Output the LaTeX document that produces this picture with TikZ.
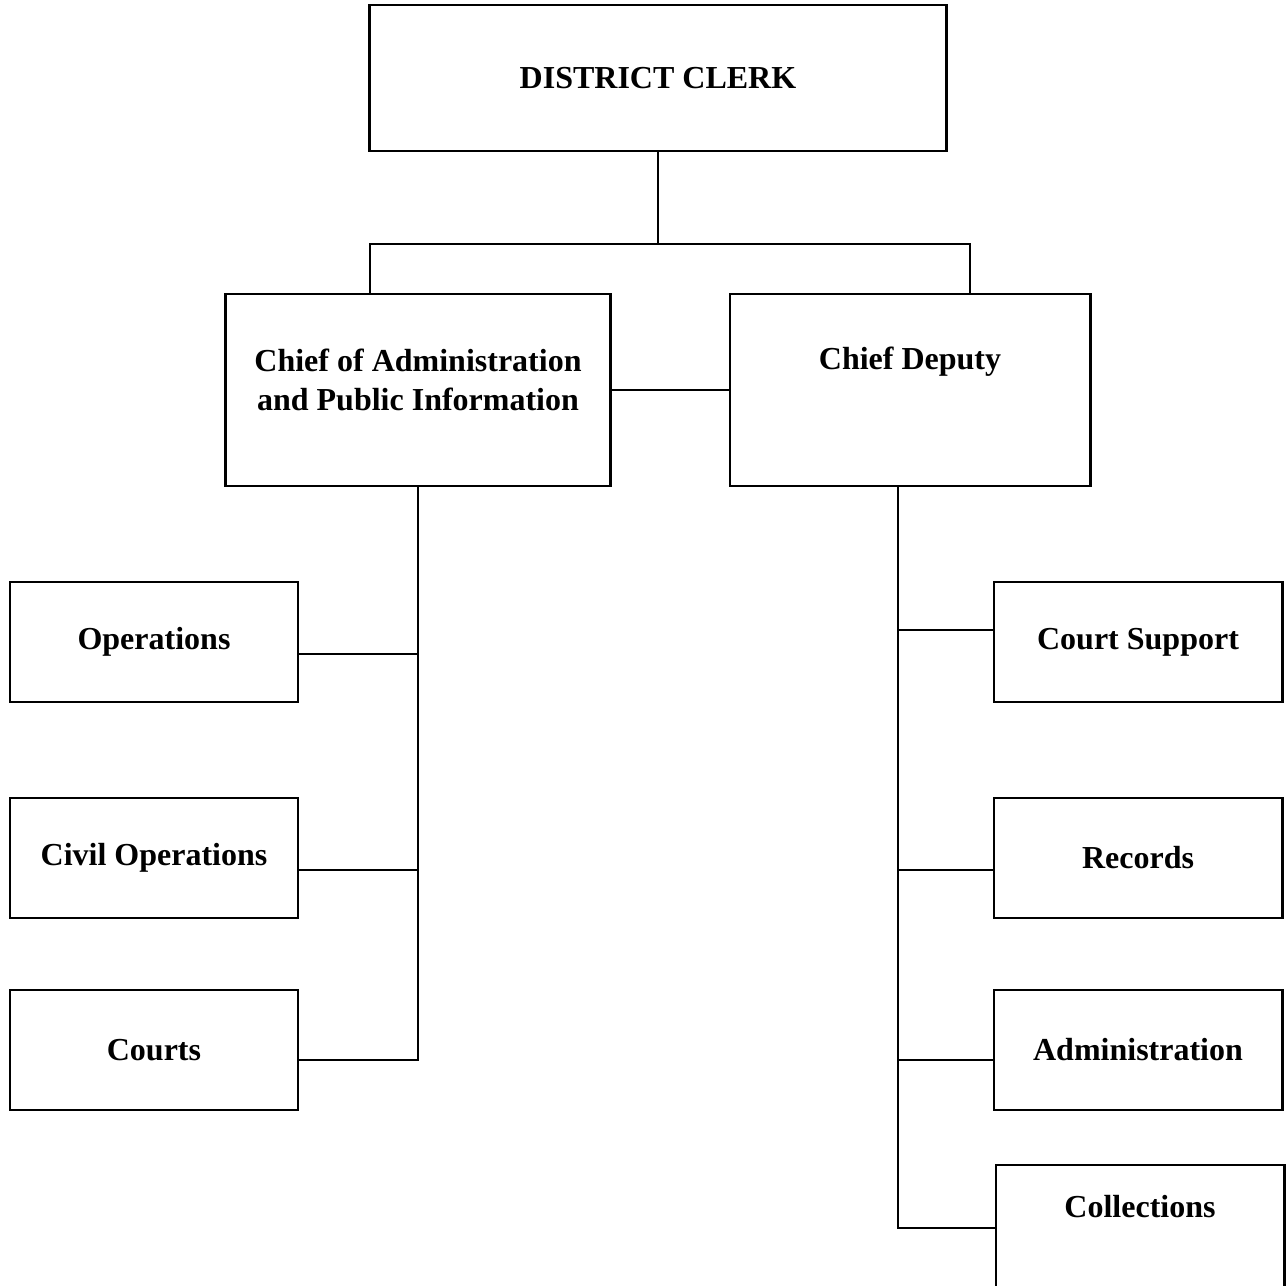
\documentclass[tikz,border=0pt]{standalone}
\usepackage{fontspec}
\setmainfont{Liberation Serif}
\usetikzlibrary{calc}
\tikzset{
    title/.style={font=\bfseries\fontsize{9.1}{11.2}\selectfont, align=center},
    unit/.style={
        draw, line width=0.8pt, align=center, inner sep=0pt, title
    },
    bigunit/.style={unit, minimum height=1.92cm},
    smallunit/.style={unit, minimum width=2.88cm, minimum height=1.2cm},
    link/.style={line width=0.6pt}
}

\begin{document}
\begin{tikzpicture}[x=0.01cm, y=-0.01cm, line cap=rect, line join=miter]

\useasboundingbox (0,0) rectangle (1286,1285);
\clip (0,0) rectangle (1286,1285);

% top of the chart
\node[unit, minimum width=5.76cm, minimum height=1.46cm] (clerk) at (658,78) {DISTRICT CLERK};

% the two chiefs
\node[bigunit, minimum width=3.84cm,
      label={[title, yshift=0.1cm]center:Chief of Administration\\and Public Information}] (admin) at (418,390) {};
\node[bigunit, minimum width=3.6cm,
      label={[title, yshift=0.28cm]center:Chief Deputy}] (deputy) at (910,390) {};

% units under the chief of administration
\node[smallunit] (ops)    at (154,642)  {Operations};
\node[smallunit] (civil)  at (154,858)  {Civil Operations};
\node[smallunit] (courts) at (154,1050) {Courts};

% units under the chief deputy
\node[smallunit] (support) at (1138,642)  {Court Support};
\node[smallunit] (records) at (1138,858)  {Records};
\node[smallunit] (admunit) at (1138,1050) {Administration};
\node[smallunit, minimum height=1.26cm,
      label={[title, yshift=0.21cm]center:Collections}] (coll) at (1140,1228) {};

% clerk down to the chiefs
\coordinate (bus) at (658,244);
\draw[link] (clerk.south) -- (bus);
\draw[link] ([xshift=-0.48cm]admin.north) |- (bus) -| ([xshift=0.6cm]deputy.north);
\draw[link] (admin.east) -- (deputy.west);

% left spine
\draw[link] (admin.south) |- ([yshift=-0.1cm]courts.east);
\draw[link] ([yshift=-0.12cm]ops.east) -| (admin.south);
\draw[link] ([yshift=-0.12cm]civil.east) -| (admin.south);

% right spine
\coordinate (rtop) at ([xshift=-0.12cm]deputy.south);
\draw[link] (rtop) |- (coll.west);
\draw[link] ([yshift=0.12cm]support.west) -| (rtop);
\draw[link] ([yshift=-0.12cm]records.west) -| (rtop);
\draw[link] ([yshift=-0.1cm]admunit.west) -| (rtop);

\end{tikzpicture}
\end{document}
